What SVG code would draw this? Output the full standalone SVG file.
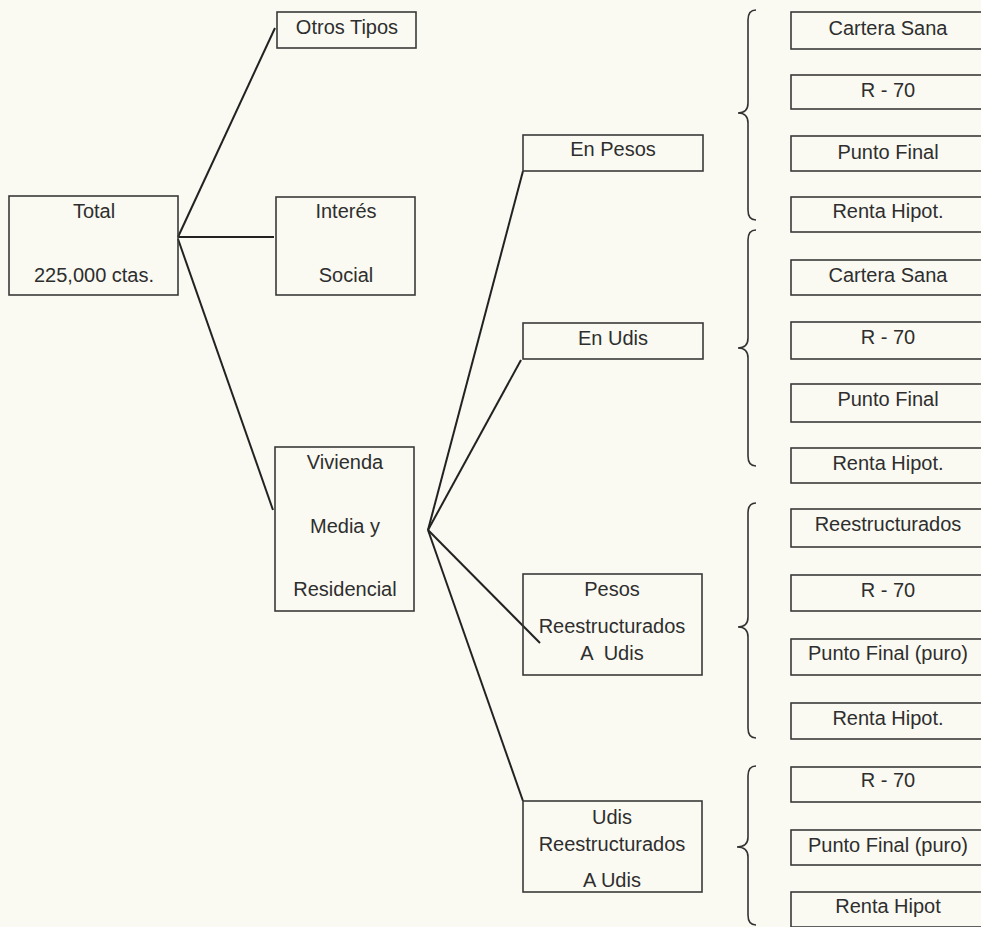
<svg xmlns="http://www.w3.org/2000/svg" width="981" height="927" viewBox="0 0 981 927">
<style>
.bg{fill:#fafaf2}
.box{fill:none;stroke:#3a3a3a;stroke-width:1.6}
.t{font-family:"Liberation Sans",Arial,sans-serif;font-size:20px;fill:#2e2e2e;text-anchor:middle}
.ln{stroke:#222;stroke-width:2;fill:none}
.br{stroke:#333;stroke-width:1.6;fill:none}
</style>
<rect class="bg" x="0" y="0" width="981" height="927"/>

<g id="connectors">
<line class="ln" x1="178" y1="237" x2="275" y2="28"/>
<line class="ln" x1="178" y1="237" x2="274" y2="237"/>
<line class="ln" x1="178" y1="239" x2="273" y2="510"/>
<line class="ln" x1="428" y1="530" x2="523" y2="171"/>
<line class="ln" x1="428" y1="530" x2="521" y2="360"/>
<line class="ln" x1="428" y1="530" x2="540" y2="643"/>
<line class="ln" x1="428" y1="530" x2="523" y2="801"/>
</g>

<g id="braces">
<path class="br" d="M756 10 Q748 10 748 20 L748 103 Q748 113 738 113 Q748 113 748 123 L748 210 Q748 220 756 220"/>
<path class="br" d="M756 230 Q748 230 748 240 L748 338 Q748 348 738 348 Q748 348 748 358 L748 456 Q748 466 756 466"/>
<path class="br" d="M756 503 Q748 503 748 513 L748 617 Q748 627 738 627 Q748 627 748 637 L748 728 Q748 738 756 738"/>
<path class="br" d="M756 766 Q748 766 748 776 L748 837 Q748 847 737 847 Q748 847 748 857 L748 915 Q748 925 756 925"/>
</g>

<g id="total"><rect class="box" x="9" y="196" width="169" height="99"/>
<text class="t" x="94" y="218">Total</text><text class="t" x="94" y="282">225,000 ctas.</text></g>

<g id="otros"><rect class="box" x="277" y="12" width="139" height="36"/>
<text class="t" x="347" y="34">Otros Tipos</text></g>

<g id="interes"><rect class="box" x="276" y="197" width="139" height="98"/>
<text class="t" x="346" y="218">Interés</text><text class="t" x="346" y="282">Social</text></g>

<g id="vivienda"><rect class="box" x="275" y="447" width="139" height="164"/>
<text class="t" x="345" y="469">Vivienda</text><text class="t" x="345" y="533">Media y</text><text class="t" x="345" y="596">Residencial</text></g>

<g id="enpesos"><rect class="box" x="523" y="135" width="180" height="36"/>
<text class="t" x="613" y="156">En Pesos</text></g>

<g id="enudis"><rect class="box" x="523" y="323" width="180" height="36"/>
<text class="t" x="613" y="345">En Udis</text></g>

<g id="pesosreest"><rect class="box" x="523" y="574" width="179" height="101"/>
<text class="t" x="612" y="596">Pesos</text><text class="t" x="612" y="633">Reestructurados</text><text class="t" x="612" y="660" xml:space="preserve">A  Udis</text></g>

<g id="udisreest"><rect class="box" x="523" y="801" width="179" height="91"/>
<text class="t" x="612" y="824">Udis</text><text class="t" x="612" y="851">Reestructurados</text><text class="t" x="612" y="887">A Udis</text></g>

<g id="r1"><rect class="box" x="791" y="12" width="200" height="37"/><text class="t" x="888" y="35">Cartera Sana</text></g>
<g id="r2"><rect class="box" x="791" y="75" width="200" height="34"/><text class="t" x="888" y="97">R - 70</text></g>
<g id="r3"><rect class="box" x="791" y="136" width="200" height="35"/><text class="t" x="888" y="159">Punto Final</text></g>
<g id="r4"><rect class="box" x="791" y="197" width="200" height="35"/><text class="t" x="888" y="218">Renta Hipot.</text></g>
<g id="r5"><rect class="box" x="791" y="260" width="200" height="35"/><text class="t" x="888" y="282">Cartera Sana</text></g>
<g id="r6"><rect class="box" x="791" y="322" width="200" height="37"/><text class="t" x="888" y="344">R - 70</text></g>
<g id="r7"><rect class="box" x="791" y="384" width="200" height="38"/><text class="t" x="888" y="406">Punto Final</text></g>
<g id="r8"><rect class="box" x="791" y="448" width="200" height="35"/><text class="t" x="888" y="470">Renta Hipot.</text></g>
<g id="r9"><rect class="box" x="791" y="509" width="200" height="38"/><text class="t" x="888" y="531">Reestructurados</text></g>
<g id="r10"><rect class="box" x="791" y="575" width="200" height="36"/><text class="t" x="888" y="597">R - 70</text></g>
<g id="r11"><rect class="box" x="791" y="639" width="200" height="36"/><text class="t" x="888" y="660">Punto Final (puro)</text></g>
<g id="r12"><rect class="box" x="791" y="703" width="200" height="36"/><text class="t" x="888" y="725">Renta Hipot.</text></g>
<g id="r13"><rect class="box" x="791" y="767" width="200" height="35"/><text class="t" x="888" y="787">R - 70</text></g>
<g id="r14"><rect class="box" x="791" y="830" width="200" height="35"/><text class="t" x="888" y="852">Punto Final (puro)</text></g>
<g id="r15"><rect class="box" x="791" y="892" width="200" height="35"/><text class="t" x="888" y="913">Renta Hipot</text></g>
</svg>
